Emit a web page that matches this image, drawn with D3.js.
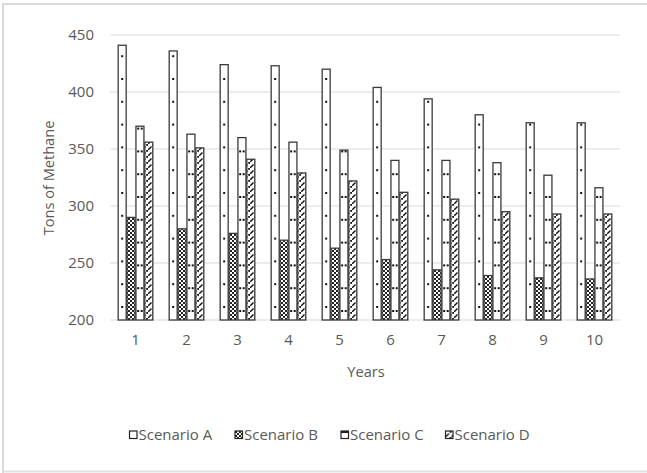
<!DOCTYPE html>
<html>
<head>
<meta charset="utf-8">
<script src="https://cdn.jsdelivr.net/npm/d3@7"></script>
<style>
  html, body { margin: 0; padding: 0; background: #fff; }
  svg { display: block; }
  text { font-family: "Open Sans", Lato, sans-serif; fill: #595959; }
</style>
</head>
<body>
<svg id="chart" width="647" height="473"></svg>
<script>
const years = ["1","2","3","4","5","6","7","8","9","10"];
const seriesNames = ["Scenario A","Scenario B","Scenario C","Scenario D"];
const scenarioA = [441, 436, 424, 423, 420, 404, 394, 380, 373, 373];
const scenarioB = [290, 280, 276, 270, 263, 253, 244, 239, 237, 236];
const scenarioC = [370, 363, 360, 356, 349, 340, 340, 338, 327, 316];
const scenarioD = [356, 351, 341, 329, 322, 312, 306, 295, 293, 293];
const yTicks = [200, 250, 300, 350, 400, 450];

const allSeries = [scenarioA, scenarioB, scenarioC, scenarioD];

const svg = d3.select("#chart");
const plotLeft = 110, plotRight = 620, plotTop = 35, plotBottom = 320;
const FONT = "15px";
const TITLE_FONT = "14.6px";

// chart frame
svg.append("path")
  .attr("d", "M3,473 L3,4 L647,4")
  .attr("fill", "none").attr("stroke", "#d9d9d9").attr("stroke-width", 2);
svg.append("line").attr("x1", 3).attr("x2", 647).attr("y1", 471.5).attr("y2", 471.5)
  .attr("stroke", "#e3e3e3").attr("stroke-width", 2);

const x0 = d3.scaleBand().domain(years).range([plotLeft, plotRight]).paddingInner(0.314).paddingOuter(0.157);
const x1 = d3.scaleBand().domain(seriesNames).range([0, x0.bandwidth()]).paddingInner(0.1).paddingOuter(0.02);
const y = d3.scaleLinear().domain([200, 450]).range([plotBottom, plotTop]);

const defs = svg.append("defs");
const step = x0.step();

// Scenario A: sparse dots, one column per bar (pattern in group-local coords)
const pA = defs.append("pattern").attr("id", "patA").attr("patternUnits", "userSpaceOnUse")
  .attr("x", 0).attr("y", plotBottom - 14).attr("width", step).attr("height", 22.8);
pA.append("rect").attr("width", step).attr("height", 22.8).attr("fill", "#fff");
pA.append("rect").attr("x", x1("Scenario A") + x1.bandwidth() / 2 - 1).attr("y", 0)
  .attr("width", 2).attr("height", 2).attr("fill", "#111");

// Scenario C: dots in two columns
const pC = defs.append("pattern").attr("id", "patC").attr("patternUnits", "userSpaceOnUse")
  .attr("x", 0).attr("y", plotBottom - 10).attr("width", step).attr("height", 22.8);
pC.append("rect").attr("width", step).attr("height", 22.8).attr("fill", "#fff");
[0.28, 0.72].forEach(f => {
  pC.append("rect").attr("x", x1("Scenario C") + x1.bandwidth() * f - 1).attr("y", 0)
    .attr("width", 2).attr("height", 2).attr("fill", "#111");
});

// Scenario B: checker
const pB = defs.append("pattern").attr("id", "patB").attr("patternUnits", "userSpaceOnUse")
  .attr("width", 4).attr("height", 4);
pB.append("rect").attr("width", 4).attr("height", 4).attr("fill", "#fff");
pB.append("rect").attr("x", 0).attr("y", 0).attr("width", 2).attr("height", 2).attr("fill", "#222");
pB.append("rect").attr("x", 2).attr("y", 2).attr("width", 2).attr("height", 2).attr("fill", "#222");

// Scenario D: dashed upward diagonal with dots
const pD = defs.append("pattern").attr("id", "patD").attr("patternUnits", "userSpaceOnUse")
  .attr("width", 6).attr("height", 6);
pD.append("rect").attr("width", 6).attr("height", 6).attr("fill", "#fff");
pD.append("path").attr("d", "M0,6 L3.5,2.5").attr("stroke", "#111").attr("stroke-width", 1.4);
pD.append("rect").attr("x", 4.2).attr("y", 0).attr("width", 1.8).attr("height", 1.8).attr("fill", "#111");

const fills = ["url(#patA)", "url(#patB)", "url(#patC)", "url(#patD)"];

// gridlines
svg.append("g").selectAll("line").data(yTicks).join("line")
  .attr("x1", plotLeft).attr("x2", plotRight)
  .attr("y1", d => y(d)).attr("y2", d => y(d))
  .attr("stroke", "#d9d9d9").attr("stroke-width", 1.2);

// y axis labels
const yAxis = d3.axisLeft(y).tickValues(yTicks).tickSize(0).tickPadding(16);
const gy = svg.append("g").attr("transform", `translate(${plotLeft},0)`).call(yAxis);
gy.select(".domain").remove();
gy.selectAll("text").style("font-size", FONT).attr("fill", "#595959")
  .style("font-family", "'Open Sans', Lato, sans-serif");

// x axis labels
const xAxis = d3.axisBottom(x0).tickSize(0).tickPadding(14);
const gx = svg.append("g").attr("transform", `translate(0,${plotBottom})`).call(xAxis);
gx.select(".domain").remove();
gx.selectAll("text").style("font-size", FONT).attr("fill", "#595959")
  .style("font-family", "'Open Sans', Lato, sans-serif");

// bars
const groups = svg.append("g").selectAll("g").data(years).join("g")
  .attr("transform", d => `translate(${x0(d)},0)`);
groups.selectAll("rect").data((d, i) => seriesNames.map((s, k) => ({ s, k, v: allSeries[k][i] })))
  .join("rect")
  .attr("x", d => x1(d.s))
  .attr("width", x1.bandwidth())
  .attr("y", d => y(d.v))
  .attr("height", d => y(200) - y(d.v))
  .attr("fill", d => fills[d.k])
  .attr("stroke", "#3a3a3a").attr("stroke-width", 1.3);

// axis titles
svg.append("text").attr("x", 366).attr("y", 377).attr("text-anchor", "middle")
  .style("font-size", TITLE_FONT).text("Years");
svg.append("text").attr("transform", "translate(54,178) rotate(-90)").attr("text-anchor", "middle")
  .style("font-size", TITLE_FONT).text("Tons of Methane");

// legend
const legendX = [129.5, 235, 341, 445.5];
const lg = svg.append("g").selectAll("g").data(seriesNames).join("g")
  .attr("transform", (d, i) => `translate(${legendX[i]},431)`);
lg.append("rect").attr("width", 7.5).attr("height", 7.5)
  .attr("fill", (d, i) => i === 1 ? "url(#patB)" : (i === 3 ? "url(#patD)" : "#fff"))
  .attr("stroke", "#222").attr("stroke-width", 1.2);
lg.filter((d, i) => i === 2).append("rect").attr("width", 7.5).attr("height", 2).attr("fill", "#222");
lg.append("text").attr("x", 9).attr("y", 8.8).style("font-size", FONT).text(d => d);
</script>
</body>
</html>
